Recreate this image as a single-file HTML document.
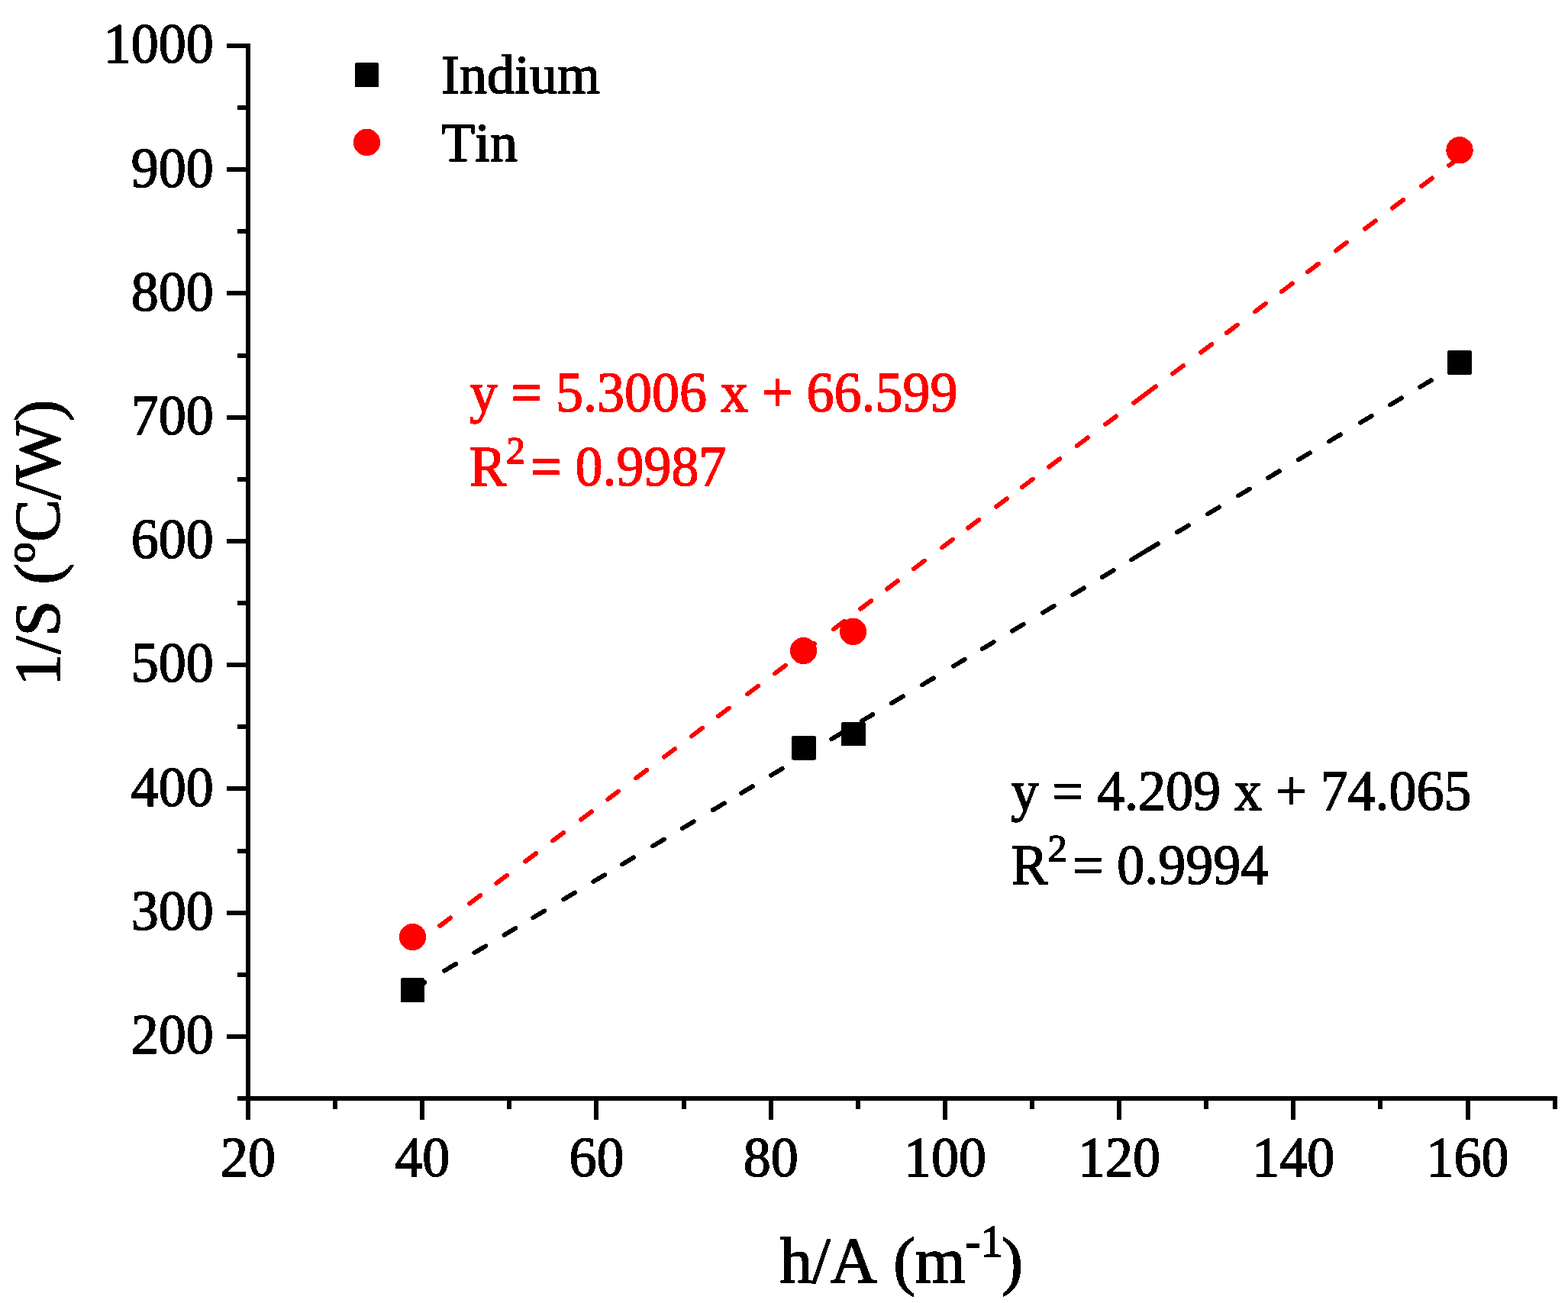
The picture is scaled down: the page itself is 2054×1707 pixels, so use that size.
<!DOCTYPE html>
<html><head><meta charset="utf-8"><title>1/S vs h/A</title>
<style>
html,body{margin:0;padding:0;background:#fff;overflow:hidden;}
svg{display:block;}
text{font-family:"Liberation Serif","Times New Roman",serif;font-kerning:none;font-feature-settings:"kern" 0,"liga" 0;fill:#000;stroke:#000;stroke-width:1.5px;}
text[fill="#f00"]{fill:#f00;stroke:#f00;}
</style></head>
<body>
<svg width="2054" height="1707" viewBox="0 0 2054 1707">
<defs><filter id="crisp" x="0" y="0" width="2054" height="1707" filterUnits="userSpaceOnUse" color-interpolation-filters="sRGB"><feComponentTransfer><feFuncA type="discrete" tableValues="0 1"/></feComponentTransfer></filter></defs>
<rect width="2054" height="1707" fill="#fff"/>
<g filter="url(#crisp)">
<rect x="322" y="57" width="6" height="1385" fill="#000"/>
<rect x="322" y="1436" width="1718" height="6" fill="#000"/>
<rect x="311" y="1436.00" width="11" height="6" fill="#000"/>
<rect x="297" y="1354.88" width="25" height="6" fill="#000"/>
<rect x="311" y="1273.76" width="11" height="6" fill="#000"/>
<rect x="297" y="1192.64" width="25" height="6" fill="#000"/>
<rect x="311" y="1111.52" width="11" height="6" fill="#000"/>
<rect x="297" y="1030.40" width="25" height="6" fill="#000"/>
<rect x="311" y="949.28" width="11" height="6" fill="#000"/>
<rect x="297" y="868.16" width="25" height="6" fill="#000"/>
<rect x="311" y="787.04" width="11" height="6" fill="#000"/>
<rect x="297" y="705.92" width="25" height="6" fill="#000"/>
<rect x="311" y="624.80" width="11" height="6" fill="#000"/>
<rect x="297" y="543.68" width="25" height="6" fill="#000"/>
<rect x="311" y="462.56" width="11" height="6" fill="#000"/>
<rect x="297" y="381.44" width="25" height="6" fill="#000"/>
<rect x="311" y="300.32" width="11" height="6" fill="#000"/>
<rect x="297" y="219.20" width="25" height="6" fill="#000"/>
<rect x="311" y="138.08" width="11" height="6" fill="#000"/>
<rect x="297" y="56.96" width="25" height="6" fill="#000"/>
<rect x="322.00" y="1442" width="6" height="25" fill="#000"/>
<rect x="436.11" y="1442" width="6" height="11" fill="#000"/>
<rect x="550.22" y="1442" width="6" height="25" fill="#000"/>
<rect x="664.33" y="1442" width="6" height="11" fill="#000"/>
<rect x="778.44" y="1442" width="6" height="25" fill="#000"/>
<rect x="892.55" y="1442" width="6" height="11" fill="#000"/>
<rect x="1006.66" y="1442" width="6" height="25" fill="#000"/>
<rect x="1120.77" y="1442" width="6" height="11" fill="#000"/>
<rect x="1234.88" y="1442" width="6" height="25" fill="#000"/>
<rect x="1348.99" y="1442" width="6" height="11" fill="#000"/>
<rect x="1463.10" y="1442" width="6" height="25" fill="#000"/>
<rect x="1577.21" y="1442" width="6" height="11" fill="#000"/>
<rect x="1691.32" y="1442" width="6" height="25" fill="#000"/>
<rect x="1805.43" y="1442" width="6" height="11" fill="#000"/>
<rect x="1919.54" y="1442" width="6" height="25" fill="#000"/>
<rect x="2033.65" y="1442" width="6" height="11" fill="#000"/>
<text transform="translate(279.80 1380.18) scale(1 1.02)" style="font-size:72px" text-anchor="end">200</text>
<text transform="translate(279.80 1217.94) scale(1 1.02)" style="font-size:72px" text-anchor="end">300</text>
<text transform="translate(279.80 1055.70) scale(1 1.02)" style="font-size:72px" text-anchor="end">400</text>
<text transform="translate(279.80 893.46) scale(1 1.02)" style="font-size:72px" text-anchor="end">500</text>
<text transform="translate(279.80 731.22) scale(1 1.02)" style="font-size:72px" text-anchor="end">600</text>
<text transform="translate(279.80 568.98) scale(1 1.02)" style="font-size:72px" text-anchor="end">700</text>
<text transform="translate(279.80 406.74) scale(1 1.02)" style="font-size:72px" text-anchor="end">800</text>
<text transform="translate(279.80 244.50) scale(1 1.02)" style="font-size:72px" text-anchor="end">900</text>
<text transform="translate(279.80 82.26) scale(1 1.02)" style="font-size:72px" text-anchor="end">1000</text>
<text transform="translate(325.00 1541.10) scale(1 1.02)" style="font-size:72px" text-anchor="middle">20</text>
<text transform="translate(553.22 1541.10) scale(1 1.02)" style="font-size:72px" text-anchor="middle">40</text>
<text transform="translate(781.44 1541.10) scale(1 1.02)" style="font-size:72px" text-anchor="middle">60</text>
<text transform="translate(1009.66 1541.10) scale(1 1.02)" style="font-size:72px" text-anchor="middle">80</text>
<text transform="translate(1237.88 1541.10) scale(1 1.02)" style="font-size:72px" text-anchor="middle">100</text>
<text transform="translate(1466.10 1541.10) scale(1 1.02)" style="font-size:72px" text-anchor="middle">120</text>
<text transform="translate(1694.32 1541.10) scale(1 1.02)" style="font-size:72px" text-anchor="middle">140</text>
<text transform="translate(1922.54 1541.10) scale(1 1.02)" style="font-size:72px" text-anchor="middle">160</text>
<text x="1021.5" y="1680" style="font-size:85px">h/A (m<tspan style="font-size:59px" dy="-34">-1</tspan><tspan dy="34" dx="-2">)</tspan></text>
<text transform="translate(78 898.7) rotate(-90)" style="font-size:84px">1/S (<tspan style="font-size:55px" dy="-33.3">o</tspan><tspan dy="33.3">C/W)</tspan></text>
<path d="M576.20 1213.00L590.17 1202.47 M615.20 1183.61L629.17 1173.08 M650.30 1157.16L664.27 1146.63 M688.30 1128.52L702.27 1117.99 M724.30 1101.39L738.27 1090.86 M760.90 1073.81L774.87 1063.28 M796.20 1047.20L810.17 1036.67 M833.10 1019.40L847.07 1008.86 M870.00 991.59L883.97 981.06 M906.00 964.46L919.97 953.92 M941.00 938.08L954.97 927.55 M979.00 909.44L992.97 898.91 M1014.90 882.39L1028.87 871.85 M1052.70 853.90L1066.67 843.37 M1091.90 824.36L1105.87 813.82 M1127.20 797.75L1141.17 787.22 M1162.00 771.53L1175.97 761.00 M1197.00 745.15L1210.97 734.62 M1233.90 717.34L1247.87 706.81 M1268.10 691.57L1282.07 681.03 M1305.00 663.76L1318.97 653.23 M1339.00 638.13L1352.97 627.60 M1374.20 611.61L1388.17 601.07 M1411.00 583.87L1424.97 573.34 M1448.10 555.91L1462.07 545.38 M1485.20 527.95L1513.76 506.43 M1536.00 489.67L1549.97 479.14 M1573.10 461.71L1587.07 451.18 M1606.90 436.24L1620.87 425.70 M1643.90 408.35L1657.87 397.82 M1679.00 381.90L1692.97 371.37 M1713.00 356.27L1726.97 345.74 M1749.90 328.47L1763.87 317.93 M1788.00 299.75L1801.97 289.22 M1824.20 272.47L1838.17 261.94 M1862.20 243.83L1876.17 233.30 M1898.10 216.78L1912.00 206.30" stroke="#f00" stroke-width="6" stroke-linecap="round" fill="none"/>
<path d="M541.55 1296.03L556.39 1287.15 M582.20 1271.71L597.04 1262.82 M621.50 1248.19L636.34 1239.31 M660.50 1224.85L675.34 1215.97 M698.40 1202.17L713.24 1193.29 M738.30 1178.29L753.14 1169.41 M777.20 1155.01L792.04 1146.13 M815.00 1132.39L829.84 1123.51 M855.00 1108.46L869.84 1099.57 M893.80 1085.24L908.64 1076.35 M934.00 1061.18L948.84 1052.30 M971.10 1038.98L985.94 1030.09 M1010.00 1015.70L1024.84 1006.82 M1049.60 992.00L1064.44 983.12 M1089.30 968.24L1104.14 959.36 M1128.60 944.73L1143.44 935.84 M1167.90 921.21L1182.74 912.32 M1208.00 897.21L1222.84 888.33 M1248.90 872.73L1263.74 863.85 M1286.90 849.99L1301.74 841.11 M1326.00 826.60L1340.84 817.71 M1365.90 802.72L1380.74 793.83 M1405.20 779.20L1420.04 770.32 M1444.00 755.98L1458.84 747.10 M1482.00 733.24L1516.94 712.33 M1541.90 697.39L1556.74 688.51 M1582.10 673.34L1596.94 664.45 M1622.00 649.46L1636.84 640.58 M1661.10 626.06L1675.94 617.18 M1701.10 602.12L1715.94 593.24 M1741.00 578.25L1755.84 569.36 M1782.00 553.71L1796.84 544.83 M1821.00 530.37L1835.84 521.49 M1860.10 506.97L1874.94 498.09 M1899.90 483.16L1912.00 475.92" stroke="#000" stroke-width="6" stroke-linecap="round" fill="none"/>
<rect x="524.75" y="1281.25" width="31.5" height="31.5" rx="1.5" fill="#000"/>
<rect x="1037.25" y="963.95" width="31.5" height="31.5" rx="1.5" fill="#000"/>
<rect x="1102.25" y="945.65" width="31.5" height="31.5" rx="1.5" fill="#000"/>
<rect x="1896.25" y="459.25" width="31.5" height="31.5" rx="1.5" fill="#000"/>
<circle cx="540.5" cy="1227.5" r="17.7" fill="#f00"/>
<circle cx="1052.5" cy="852.5" r="17.7" fill="#f00"/>
<circle cx="1117.5" cy="827.4" r="17.7" fill="#f00"/>
<circle cx="1912" cy="196.8" r="17.7" fill="#f00"/>
<rect x="465" y="82" width="31" height="32" rx="1.5" fill="#000"/>
<circle cx="480.5" cy="186.4" r="17.7" fill="#f00"/>
<text x="578.00" y="121.70" style="font-size:72px">Indium</text>
<text x="578.00" y="210.80" style="font-size:72px">Tin</text>
<text transform="translate(615.40 538.50) scale(1 1.02)" style="font-size:72px" fill="#f00">y = 5.3006 x + 66.599</text>
<text transform="translate(614.90 635.70) scale(1 1.02)" style="font-size:72px" fill="#f00">R<tspan style="font-size:50px" dy="-28.5">2</tspan><tspan dy="28.5" dx="7">= 0.9987</tspan></text>
<text transform="translate(1324.40 1060.50) scale(1 1.02)" style="font-size:72px">y = 4.209 x + 74.065</text>
<text transform="translate(1324.70 1157.50) scale(1 1.02)" style="font-size:72px">R<tspan style="font-size:50px" dy="-28.5">2</tspan><tspan dy="28.5" dx="7">= 0.9994</tspan></text>
</g>
</svg>
</body></html>
